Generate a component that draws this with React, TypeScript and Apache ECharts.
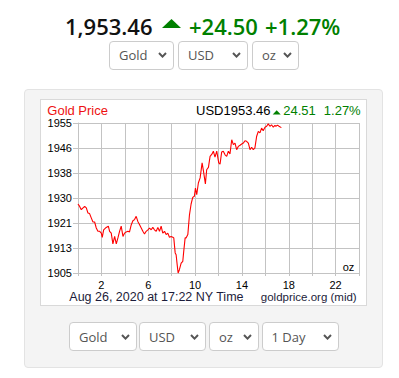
import React, { useEffect, useRef } from "react";
import * as echarts from "echarts";

// ---- data (hours since midnight NY time, USD per oz) ----
const HOURS = [
  0.0, 0.14, 0.28, 0.43, 0.57, 0.71, 0.85, 0.99, 1.14, 1.28, 1.42, 1.56, 1.7, 1.85, 1.99, 2.07, 2.19, 2.41, 2.59, 2.7,
  2.84, 2.98, 3.13, 3.27, 3.41, 3.55, 3.69, 3.84, 3.98, 4.12, 4.26, 4.4, 4.55, 4.69, 4.83, 4.97, 5.11, 5.26, 5.4, 5.54,
  5.68, 5.82, 5.97, 6.11, 6.25, 6.39, 6.53, 6.68, 6.82, 6.96, 7.1, 7.24, 7.39, 7.53, 7.67, 7.81, 7.95, 8.1, 8.18, 8.3,
  8.38, 8.47, 8.55, 8.66, 8.81, 8.95, 9.03, 9.15, 9.23, 9.38, 9.52, 9.66, 9.8, 9.94, 10.03, 10.14, 10.28, 10.43, 10.6,
  10.71, 10.88, 10.99, 11.14, 11.28, 11.45, 11.56, 11.7, 11.85, 12.02, 12.13, 12.27, 12.41, 12.56, 12.7, 12.84, 12.98,
  13.13, 13.27, 13.41, 13.55, 13.69, 13.84, 13.98, 14.12, 14.26, 14.4, 14.55, 14.69, 14.83, 14.97, 15.11, 15.26, 15.4,
  15.54, 15.68, 15.82, 15.97, 16.11, 16.25, 16.39, 16.53, 16.68, 16.82, 16.9, 17.05, 17.2, 17.37,
];
const PRICES = [
  1928.0, 1927.2, 1926.1, 1926.7, 1927.2, 1926.7, 1925.0, 1924.8, 1923.3, 1922.0, 1922.0, 1920.0, 1918.9, 1918.9, 1918.3,
  1916.9, 1919.4, 1920.2, 1920.6, 1918.9, 1918.3, 1914.7, 1917.2, 1914.7, 1916.7, 1918.9, 1920.6, 1917.2, 1918.3, 1918.7,
  1918.9, 1918.7, 1921.1, 1922.4, 1922.8, 1923.9, 1922.2, 1921.1, 1920.0, 1918.9, 1918.0, 1918.9, 1919.4, 1920.0, 1919.4,
  1920.2, 1919.4, 1918.9, 1920.2, 1918.9, 1920.6, 1918.3, 1918.9, 1917.8, 1918.3, 1916.9, 1917.2, 1916.9, 1916.7, 1911.7,
  1911.1, 1907.8, 1905.0, 1906.1, 1908.3, 1908.9, 1912.2, 1916.7, 1916.7, 1917.8, 1924.4, 1928.0, 1930.2, 1930.6, 1933.3,
  1931.1, 1935.0, 1936.7, 1941.7, 1939.1, 1934.7, 1939.4, 1940.2, 1943.9, 1944.7, 1945.6, 1943.6, 1945.6, 1941.7, 1941.3,
  1945.3, 1945.6, 1944.4, 1943.9, 1945.6, 1944.7, 1949.4, 1947.8, 1948.3, 1946.1, 1947.2, 1947.6, 1948.0, 1948.3, 1949.1,
  1948.9, 1948.3, 1946.1, 1946.9, 1946.1, 1946.7, 1950.6, 1952.2, 1951.7, 1953.3, 1952.4, 1953.6, 1953.9, 1954.7, 1953.9,
  1954.4, 1953.6, 1954.2, 1953.9, 1954.3, 1953.8, 1953.46,
];
const X_LABELS = [2, 6, 10, 14, 18, 22];
const X_MIN = 0;
const X_MAX = 24;
const X_STEP = 2;
const Y_MIN = 1905;
const Y_MAX = 1955;
const Y_STEPS = 6;

const PRICE_TEXT = "1,953.46";
const CHANGE_TEXT = "+24.50";
const PCT_TEXT = "+1.27%";
const CHART_PRICE = "USD1953.46";
const CHART_CHANGE = "24.51";
const CHART_PCT = "1.27%";
const TITLE = "Gold Price";
const STAMP = "Aug 26, 2020 at 17:22 NY Time";
const SOURCE = "goldprice.org (mid)";
const UNIT = "oz";

const GREEN = "#008000";
const CF = '"Liberation Sans", Arial, sans-serif';
const UI = '"Open Sans", sans-serif';
const HEAD_Y = 10.4;

function Chevron() {
  return (
    <svg width="9" height="6" viewBox="0 0 9 6" style={{ display: "block" }}>
      <polyline points="1,1 4.5,4.6 8,1" fill="none" stroke="#555" strokeWidth="2" />
    </svg>
  );
}

function Select(props: { left: number; top: number; width: number; label: string }) {
  return (
    <div
      style={{
        position: "absolute",
        left: props.left,
        top: props.top,
        width: props.width,
        height: 29,
        boxSizing: "border-box",
        border: "1px solid #cccccc",
        borderRadius: 4,
        background: "#fff",
        display: "flex",
        alignItems: "center",
        justifyContent: "space-between",
        paddingLeft: 9,
        paddingRight: 6,
        fontFamily: UI,
        fontSize: 13,
        color: "#555",
      }}
    >
      <span>{props.label}</span>
      <Chevron />
    </div>
  );
}

function Chart() {
  const ref = useRef<HTMLDivElement>(null);
  useEffect(() => {
    if (!ref.current) return;
    const chart = echarts.init(ref.current, undefined, { renderer: "svg" });
    const gridColor = "#c3c3c3";
    chart.setOption({
      animation: false,
      grid: { left: 37, top: 23, width: 281, height: 150 },
      xAxis: {
        type: "value",
        min: X_MIN,
        max: X_MAX,
        interval: X_STEP,
        axisLine: { show: true, lineStyle: { color: gridColor, width: 1 } },
        axisTick: { show: true, length: 3, lineStyle: { color: gridColor } },
        splitLine: { show: true, lineStyle: { color: gridColor, width: 1 } },
        axisLabel: {
          margin: 7,
          color: "#000",
          fontSize: 11,
          lineHeight: 10,
          fontFamily: CF,
          formatter: (v: number) => (X_LABELS.includes(v) ? String(v) : ""),
        },
      },
      yAxis: {
        type: "value",
        min: Y_MIN,
        max: Y_MAX,
        interval: (Y_MAX - Y_MIN) / Y_STEPS,
        axisLine: { show: true, lineStyle: { color: gridColor, width: 1 } },
        axisTick: { show: true, length: 5, lineStyle: { color: gridColor } },
        splitLine: { show: true, lineStyle: { color: gridColor, width: 1 } },
        axisLabel: {
          margin: 6,
          color: "#000",
          fontSize: 11,
          lineHeight: 10,
          fontFamily: CF,
          formatter: (v: number) => String(Math.floor(v + 1e-6)),
        },
      },
      series: [
        {
          type: "line",
          data: HOURS.map((h, i) => [h, PRICES[i]]),
          showSymbol: false,
          lineStyle: { color: "#ff0000", width: 1.1 },
          clip: false,
        },
      ],
      graphic: [
        {
          type: "text",
          style: {
            text: TITLE,
            x: 6.3,
            y: HEAD_Y,
            fill: "#ee1111",
            font: `13px ${CF}`,
            lineHeight: 12,
            textVerticalAlign: "middle",
          },
        },
        {
          type: "text",
          style: {
            text: CHART_PRICE,
            x: 229.5,
            y: HEAD_Y,
            fill: "#000",
            font: `13px ${CF}`,
            lineHeight: 12,
            textAlign: "right",
            textVerticalAlign: "middle",
          },
        },
        {
          type: "polygon",
          shape: { points: [[231.7, 14.6], [235.7, 10.2], [239.7, 14.6]] },
          style: { fill: GREEN },
        },
        {
          type: "text",
          style: {
            text: CHART_CHANGE,
            x: 242.3,
            y: HEAD_Y,
            fill: GREEN,
            font: `13px ${CF}`,
            lineHeight: 12,
            textVerticalAlign: "middle",
          },
        },
        {
          type: "text",
          style: {
            text: CHART_PCT,
            x: 319.7,
            y: HEAD_Y,
            fill: GREEN,
            font: `13px ${CF}`,
            lineHeight: 12,
            textAlign: "right",
            textVerticalAlign: "middle",
          },
        },
        {
          type: "text",
          style: {
            text: UNIT,
            x: 307.5,
            y: 167,
            fill: "#000",
            font: `11px ${CF}`,
            textAlign: "center",
            textVerticalAlign: "middle",
          },
        },
        {
          type: "text",
          style: {
            text: STAMP,
            x: 28.3,
            y: 196.5,
            fill: "#1c1c3a",
            font: `12.5px ${CF}`,
            lineHeight: 11,
            textVerticalAlign: "middle",
          },
        },
        {
          type: "text",
          style: {
            text: SOURCE,
            x: 315.7,
            y: 196.5,
            fill: "#1c1c3a",
            font: `11.5px ${CF}`,
            lineHeight: 11,
            textAlign: "right",
            textVerticalAlign: "middle",
          },
        },
      ],
    });
    return () => chart.dispose();
  }, []);
  return <div ref={ref} style={{ position: "absolute", left: 0, top: 0, width: 325, height: 205 }} />;
}

export default function App() {
  const big = { position: "absolute" as const, top: 11, fontFamily: UI, fontWeight: 600, fontSize: 22, lineHeight: "30px", whiteSpace: "nowrap" as const };
  return (
    <div style={{ position: "absolute", left: 0, top: 0, width: 399, height: 378, background: "#fff", overflow: "hidden" }}>
      <span style={{ ...big, left: 65, color: "#111" }}>{PRICE_TEXT}</span>
      <svg style={{ position: "absolute", left: 162, top: 18.5 }} width="19" height="9" viewBox="0 0 19 9">
        <polygon points="0,9 9.5,0 19,9" fill={GREEN} />
      </svg>
      <span style={{ ...big, left: 189, color: GREEN }}>{CHANGE_TEXT}</span>
      <span style={{ ...big, left: 265, color: GREEN }}>{PCT_TEXT}</span>

      <Select left={109} top={40.5} width={64.5} label="Gold" />
      <Select left={178} top={40.5} width={69.5} label="USD" />
      <Select left={252} top={40.5} width={46.5} label="oz" />

      <div
        style={{
          position: "absolute",
          left: 24,
          top: 89,
          width: 359,
          height: 279,
          boxSizing: "border-box",
          background: "#f4f4f4",
          border: "1px solid #e3e3e3",
          borderRadius: 4,
        }}
      />
      <div
        style={{
          position: "absolute",
          left: 40,
          top: 99,
          width: 327,
          height: 207,
          boxSizing: "border-box",
          background: "#fff",
          border: "1px solid #d9d9d9",
        }}
      >
        <Chart />
      </div>

      <Select left={69} top={322} width={68} label="Gold" />
      <Select left={139} top={322} width={67} label="USD" />
      <Select left={209} top={322} width={49.5} label="oz" />
      <Select left={261.5} top={322} width={77} label="1 Day" />
    </div>
  );
}
